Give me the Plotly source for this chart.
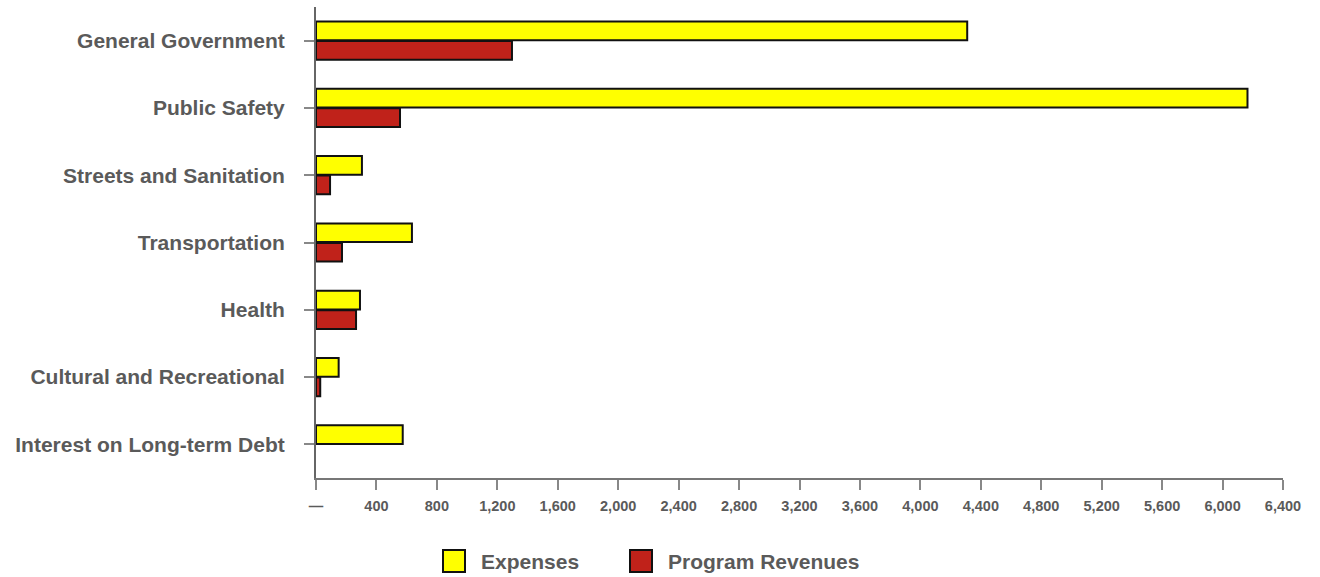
import plotly.graph_objects as go

categories = ["General Government", "Public Safety", "Streets and Sanitation",
              "Transportation", "Health", "Cultural and Recreational",
              "Interest on Long-term Debt"]
expenses = [4310, 6165, 304, 635, 291, 150, 574]
program_revenues = [1297, 556, 93, 172, 265, 28, None]  # no revenue for interest
x_tick_vals = [0, 400, 800, 1200, 1600, 2000, 2400, 2800, 3200, 3600, 4000,
               4400, 4800, 5200, 5600, 6000, 6400]
x_tick_text = ["—", "400", "800", "1,200", "1,600", "2,000", "2,400", "2,800",
               "3,200", "3,600", "4,000", "4,400", "4,800", "5,200", "5,600",
               "6,000", "6,400"]
series_names = ["Expenses", "Program Revenues"]
series_colors = ["#FFFF00", "#C0221A"]

FONT = "Liberation Sans, Arial, sans-serif"
GREY = "#5a5a5a"

fig = go.Figure()
for name, vals, col in zip(series_names, [expenses, program_revenues], series_colors):
    fig.add_trace(go.Bar(
        y=categories, x=vals, name=name, orientation="h",
        marker=dict(color=col, line=dict(color="#111111", width=2)),
        showlegend=False,
    ))

fig.update_layout(
    barmode="group", bargap=0.42, bargroupgap=0.04,
    width=1320, height=577,
    margin=dict(l=316, r=37, t=7, b=99),
    plot_bgcolor="white", paper_bgcolor="white",
    font=dict(family=FONT, color=GREY),
)
fig.update_yaxes(
    autorange="reversed", showline=True, linecolor="#666666", linewidth=2,
    ticks="outside", ticklen=10, tickcolor="#888888", tickwidth=2,
    tickfont=dict(family=FONT, size=21, color=GREY, weight="bold"),
    showgrid=False, ticklabelstandoff=15,
)
fig.update_xaxes(
    range=[0, 6400], tickvals=x_tick_vals, ticktext=x_tick_text,
    showline=True, linecolor="#777777", linewidth=2,
    ticks="outside", ticklen=10, tickcolor="#888888", tickwidth=2,
    tickfont=dict(family=FONT, size=14.5, color=GREY, weight="bold"),
    showgrid=False, zeroline=False, ticklabelstandoff=4,
)

# manual legend
legend_x = [443, 630]
for lx, name, col in zip(legend_x, series_names, series_colors):
    fig.add_shape(type="rect", xref="paper", yref="paper",
                  x0=(lx - 316) / 967, x1=(lx + 22 - 316) / 967,
                  y0=(577 - 99 - 572) / 471, y1=(577 - 99 - 550) / 471,
                  fillcolor=col, line=dict(color="#111111", width=2))
    fig.add_annotation(xref="paper", yref="paper",
                       x=(lx + 36 - 316) / 967, y=(577 - 99 - 561) / 471,
                       text=name, showarrow=False, xanchor="left", yanchor="middle",
                       font=dict(family=FONT, size=21, color=GREY, weight="bold"))

fig.write_html("out.html", config={"displayModeBar": False},
               post_script="document.body.style.margin='0';document.body.style.overflow='hidden';")
